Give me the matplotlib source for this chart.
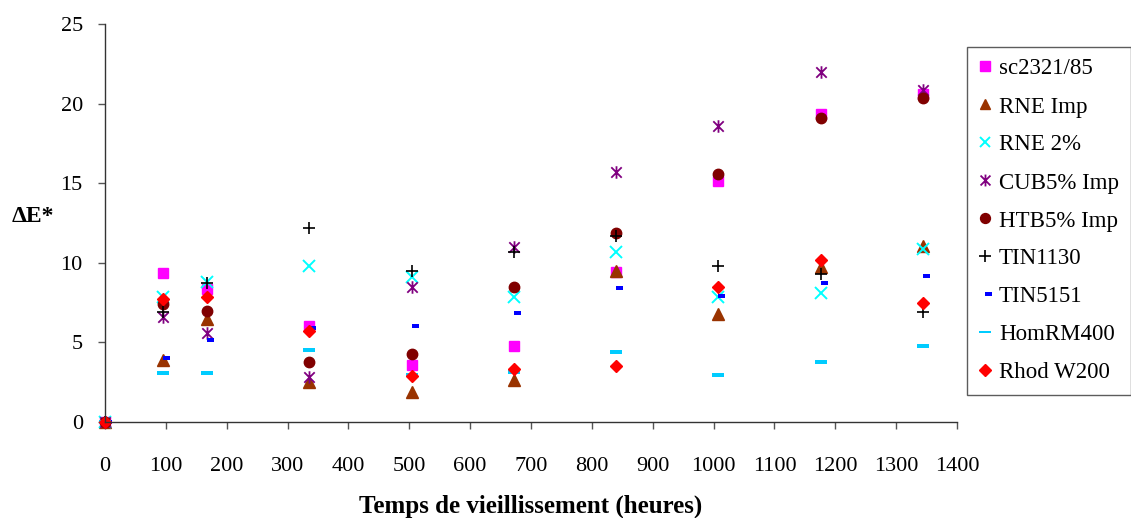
import numpy as np
import matplotlib.pyplot as plt
from matplotlib.path import Path

plt.rcParams['font.family'] = ['Liberation Serif', 'DejaVu Serif']

# temps de vieillissement (heures)
heures = [0, 96, 168, 336, 504, 672, 840, 1008, 1176, 1344]

sc2321 = [0, 9.35, 8.35, 6.0, 3.6, 4.8, 9.45, 15.15, 19.35, 20.6]
rne_imp = [0, 3.9, 6.5, 2.5, 1.9, 2.65, 9.5, 6.8, 9.75, 11.05]
rne_2 = [0, 7.85, 8.8, 9.8, 9.1, 7.85, 10.7, 7.85, 8.1, 10.85]
cub5_imp = [0, 6.6, 5.6, 2.8, 8.5, 11.0, 15.7, 18.6, 22.0, 20.85]
htb5_imp = [0, 7.4, 7.0, 3.8, 4.3, 8.5, 11.85, 15.55, 19.1, 20.35]
tin1130 = [0, 6.9, 8.7, 12.2, 9.5, 10.7, 11.7, 9.8, 9.3, 6.9]
tin5151 = [0, 4.0, 5.15, 5.9, 6.0, 6.85, 8.4, 7.9, 8.7, 9.2]
homrm400 = [0, 3.05, 3.05, 4.5, 2.95, 3.15, 4.4, 2.95, 3.8, 4.8]
rhod_w200 = [0, 7.7, 7.85, 5.7, 2.9, 3.3, 3.5, 8.5, 10.2, 7.5]

labels = ['sc2321/85', 'RNE Imp', 'RNE 2%', 'CUB5% Imp', 'HTB5% Imp',
          'TIN1130', 'TIN5151', 'HomRM400', 'Rhod W200']

# excel-like markers
star = Path([(-1, -1), (1, 1), (-1, 1), (1, -1), (0, -1.2), (0, 1.2)],
            [Path.MOVETO, Path.LINETO, Path.MOVETO, Path.LINETO, Path.MOVETO, Path.LINETO])
short_dash = Path([(0, -0.35), (1, -0.35), (1, 0.35), (0, 0.35), (0, -0.35)],
                  [Path.MOVETO, Path.LINETO, Path.LINETO, Path.LINETO, Path.CLOSEPOLY])
long_dash = Path([(-1, -0.25), (1, -0.25), (1, 0.25), (-1, 0.25), (-1, -0.25)],
                 [Path.MOVETO, Path.LINETO, Path.LINETO, Path.LINETO, Path.CLOSEPOLY])

styles = [
    dict(marker='s', color='#FF00FF', ms=7),
    dict(marker='^', color='#993300', ms=8),
    dict(marker='x', color='#00FFFF', ms=8, mew=1.4),
    dict(marker=star, color='#800080', ms=9, mew=1.3, mfc='none'),
    dict(marker='o', color='#800000', ms=7.5),
    dict(marker='+', color='#000000', ms=9, mew=1.2),
    dict(marker=short_dash, color='#0000FF', ms=10, mew=0),
    dict(marker=long_dash, color='#00CCFF', ms=9, mew=0),
    dict(marker='D', color='#FF0000', ms=6.5),
]
series = [sc2321, rne_imp, rne_2, cub5_imp, htb5_imp, tin1130, tin5151, homrm400, rhod_w200]

fig = plt.figure(figsize=(11.31, 5.18), dpi=100)
ax = fig.add_axes([105 / 1131, 1 - 422 / 518, 852 / 1131, 398 / 518])

for vals, lab, st in zip(series, labels, styles):
    ax.plot(heures, vals, linestyle='none', label=lab, clip_on=False, **st)

ax.set_xlim(0, 1400)
ax.set_ylim(0, 25)
ax.set_xticks(np.arange(0, 1401, 100))
ax.set_yticks(np.arange(0, 26, 5))
ax.spines['top'].set_visible(False)
ax.spines['right'].set_visible(False)
for s in ['left', 'bottom']:
    ax.spines[s].set_color('#333333')
    ax.spines[s].set_linewidth(1.0)
ax.tick_params(direction='out', length=5, width=1, color='#555555', labelsize=16)
ax.tick_params(axis='x', pad=20)
ax.tick_params(axis='y', pad=11)

fig.text(33 / 1131, 1 - 217 / 518, 'ΔE*', fontsize=17, fontweight='bold',
         ha='center', va='center')
fig.text(531 / 1131, 1 - 506 / 518, 'Temps de vieillissement (heures)',
         fontsize=18, fontweight='bold', ha='center', va='center')

leg = fig.legend(loc='upper left', bbox_to_anchor=(967 / 1131, 1 - 47 / 518),
                 fontsize=16.5, frameon=True, fancybox=False, edgecolor='#333333',
                 labelspacing=0.74, handlelength=0.6, handletextpad=0.3,
                 borderpad=0.5, borderaxespad=0, markerscale=0.95)
leg.get_frame().set_linewidth(1.0)

fig.savefig('out.png', dpi=100)
